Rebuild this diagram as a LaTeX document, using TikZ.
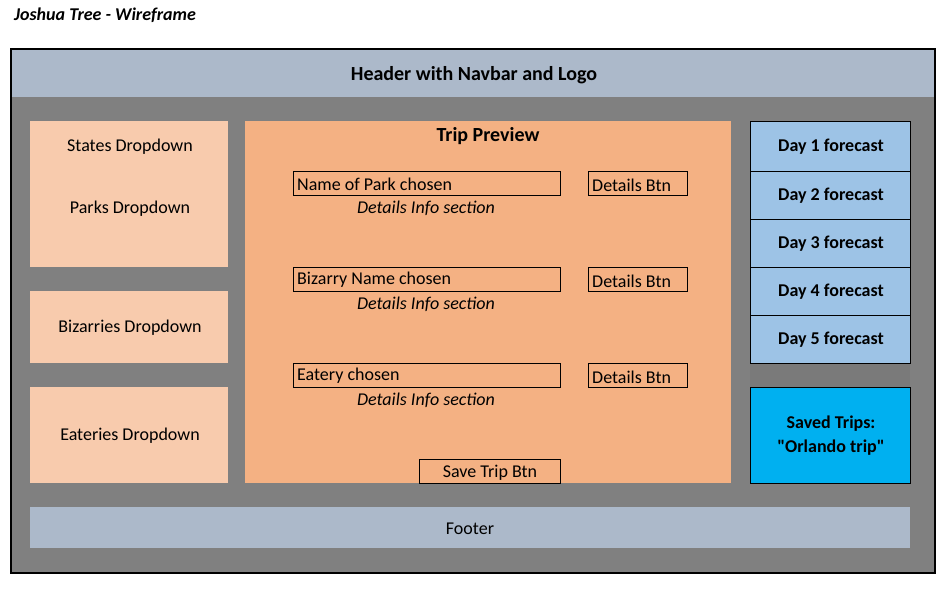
\documentclass[tikz,border=0pt]{standalone}
\usepackage{fontspec}
\setmainfont{Carlito}
\newfontfamily\qfont{Carlito}[Ligatures=TeXOff]
\definecolor{hdr}{HTML}{ACB9CA}
\definecolor{bg}{HTML}{808080}
\definecolor{lt}{HTML}{F8CBAD}
\definecolor{md}{HTML}{F4B183}
\definecolor{day}{HTML}{9DC3E6}
\definecolor{sav}{HTML}{00B0F0}
\definecolor{gap}{HTML}{7A7A7A}
\tikzset{
  x=1pt,y=-1pt,
  txt/.style={font=\fontsize{18}{21}\selectfont,inner sep=0pt},
  btxt/.style={font=\bfseries\fontsize{18}{24}\selectfont,inner sep=0pt,align=center},
  itxt/.style={font=\itshape\fontsize{18}{21}\selectfont,inner sep=0pt},
  box/.style={draw=black,line width=0.9pt},
}
\begin{document}
\begin{tikzpicture}
\useasboundingbox (0,0) rectangle (947,593);
% title
\node[btxt,font=\bfseries\itshape\fontsize{18}{21}\selectfont,anchor=west] (title) at (14,15) {Joshua Tree - Wireframe};
% outer
\fill[bg] (11,49) rectangle (935,573);
\fill[hdr] (11,49) rectangle (935,97);
\node[btxt,font=\bfseries\fontsize{20}{23}\selectfont] (header) at (474,75) {Header with Navbar and Logo};
\draw[line width=2pt] (11,49) rectangle (935,573);
% left
\fill[lt] (30,121) rectangle (228,267);
\node[txt] (states) at (130,147) {States Dropdown};
\node[txt] (parks) at (130,209) {Parks Dropdown};
\fill[lt] (30,291) rectangle (228,363);
\node[txt] (biz) at (130,328) {Bizarries Dropdown};
\fill[lt] (30,387) rectangle (228,483);
\node[txt] (eat) at (130,436) {Eateries Dropdown};
% center
\fill[md] (245,121) rectangle (731,483);
\node[btxt,font=\bfseries\fontsize{20}{23}\selectfont] (trip) at (488,136) {Trip Preview};
\foreach \yy/\lab/\nm in {171/Name of Park chosen/a, 267/Bizarry Name chosen/b, 363/Eatery chosen/c}{
  \draw[box] (293,\yy) rectangle (560,\yy+24);
  \node[txt,anchor=west] (name\nm) at (297,\yy+13) {\lab};
  \draw[box] (588,\yy) rectangle (687,\yy+24);
  \node[txt,anchor=west] (btn\nm) at (592,\yy+14) {Details Btn};
  \node[itxt] (info\nm) at (426,\yy+37) {Details Info section};
}
\draw[box] (419,459) rectangle (560,483);
\node[txt] (save) at (490,473) {Save Trip Btn};
% right
\fill[gap] (750,363) rectangle (910,387);
\foreach \i/\yy/\yb in {1/121/171,2/171/219,3/219/267,4/267/315,5/315/363}{
  \draw[box,fill=day] (750,\yy) rectangle (910,\yb);
  \node[btxt] (day\i) at (831,{(\yy+\yb)/2+1}) {Day \i\ forecast};
}
\draw[box,fill=sav] (750,387) rectangle (910,483);
\node[btxt] (saved) at (831,436) {Saved Trips:\\{\qfont\bfseries "Orlando trip"}};
% footer
\fill[hdr] (30,507) rectangle (910,548);
\node[txt] (footer) at (470,529) {Footer};
\end{tikzpicture}
\end{document}
